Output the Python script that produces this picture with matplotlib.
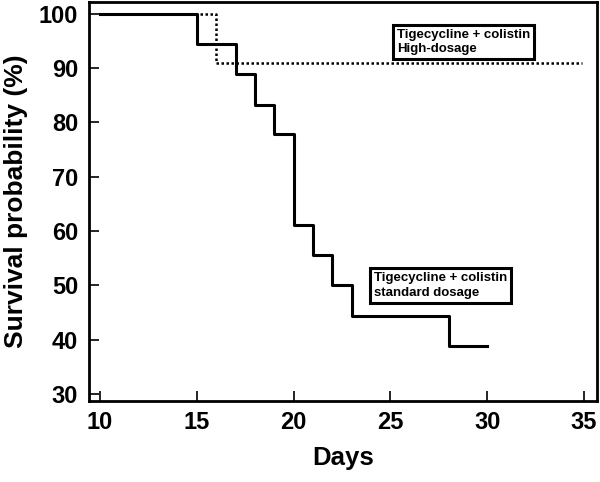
import matplotlib.pyplot as plt

plt.rcParams['font.family'] = ['Liberation Sans', 'DejaVu Sans']
plt.rcParams['font.weight'] = 'bold'

# Kaplan-Meier steps
std_days = [10, 15, 17, 18, 19, 20, 21, 22, 23, 28, 30]
std_surv = [100, 94.4, 88.9, 83.3, 77.8, 61.1, 55.6, 50.0, 44.4, 38.9, 38.9]

high_days = [10, 16, 34.9]
high_surv = [100, 90.9, 90.9]

xticks = [10, 15, 20, 25, 30, 35]
yticks = [30, 40, 50, 60, 70, 80, 90, 100]

fig = plt.figure(figsize=(6, 4.82), dpi=100)
ax = fig.add_axes([0.149, 0.168, 0.846, 0.828])

ax.step(high_days, high_surv, where='post', color='black', linewidth=1.8,
        linestyle=(0, (1, 1)))
ax.step(std_days, std_surv, where='post', color='black', linewidth=2.2)

ax.set_xlim(9.45, 35.67)
ax.set_ylim(28.7, 102.2)
ax.set_xticks(xticks)
ax.set_yticks(yticks)
ax.tick_params(direction='in', length=7, width=1.2, labelsize=17)
ax.tick_params(axis='x', pad=7)
ax.tick_params(axis='y', pad=8)
for s in ax.spines.values():
    s.set_linewidth(2)

ax.set_xlabel('Days', fontsize=18.5, fontweight='bold', labelpad=9)
ax.set_ylabel('Survival probability (%)', fontsize=19, fontweight='bold', labelpad=8)

box = dict(boxstyle='square,pad=0.3', facecolor='white', edgecolor='black', linewidth=2.2)
ax.text(25.34, 97.2, 'Tigecycline + colistin\nHigh-dosage', fontsize=9.5,
        fontweight='bold', va='top', ha='left', bbox=box, linespacing=1.25)
ax.text(24.15, 52.4, 'Tigecycline + colistin\nstandard dosage', fontsize=9.5,
        fontweight='bold', va='top', ha='left', bbox=box, linespacing=1.25)

fig.savefig('out.png', dpi=100)
